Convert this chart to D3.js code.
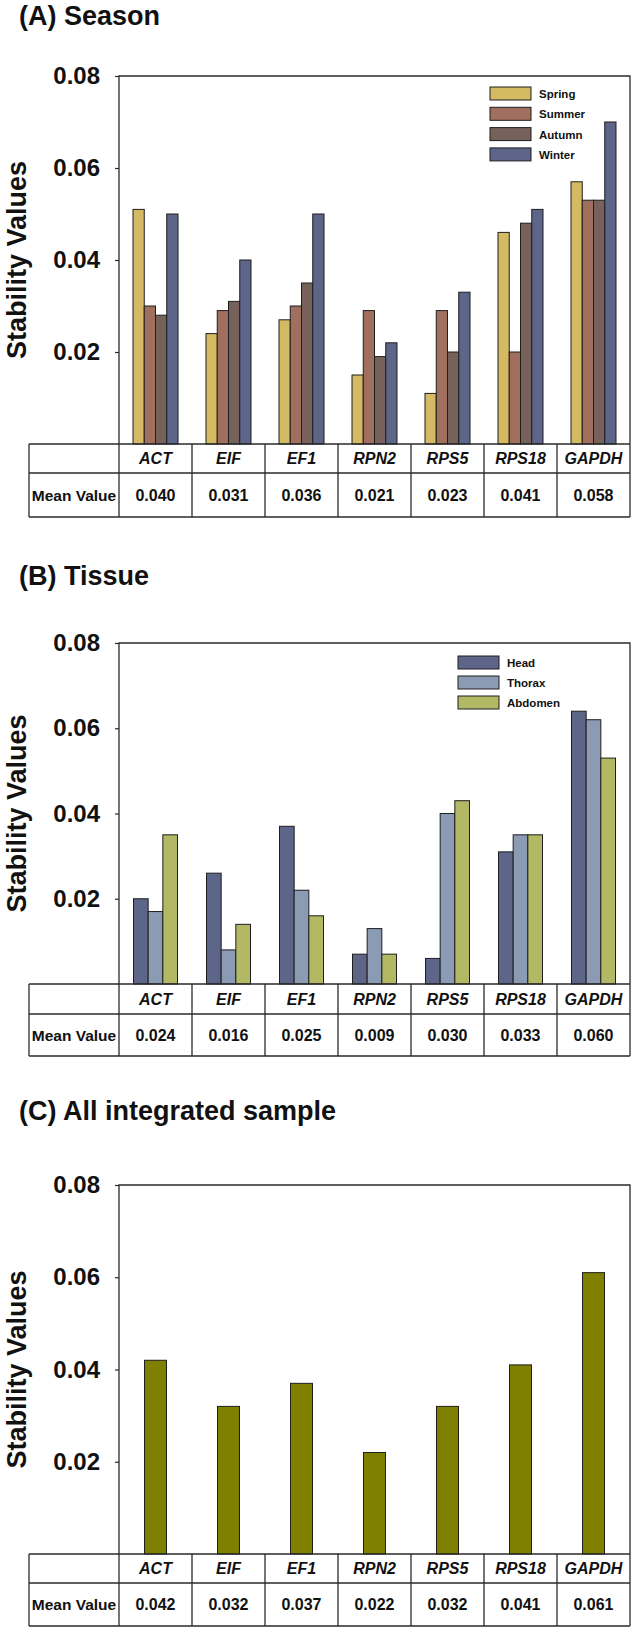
<!DOCTYPE html>
<html>
<head>
<meta charset="utf-8">
<script src="https://cdn.jsdelivr.net/npm/d3@7"></script>
<style>
  body { margin: 0; background: #fff; }
  svg text { font-family: "Liberation Sans", Arial, sans-serif; font-weight: bold; fill: #111; }
</style>
</head>
<body>
<div id="chart"></div>
<script>
// data
const genes = ['ACT', 'EIF', 'EF1', 'RPN2', 'RPS5', 'RPS18', 'GAPDH'];
const yTicks = [0.02, 0.04, 0.06, 0.08];

const seasons = ['Spring', 'Summer', 'Autumn', 'Winter'];
const springVals = [0.051, 0.024, 0.027, 0.015, 0.011, 0.046, 0.057];
const summerVals = [0.030, 0.029, 0.030, 0.029, 0.029, 0.020, 0.053];
const autumnVals = [0.028, 0.031, 0.035, 0.019, 0.020, 0.048, 0.053];
const winterVals = [0.050, 0.040, 0.050, 0.022, 0.033, 0.051, 0.070];
const seasonMeans = ['0.040', '0.031', '0.036', '0.021', '0.023', '0.041', '0.058'];

const tissues = ['Head', 'Thorax', 'Abdomen'];
const headVals = [0.020, 0.026, 0.037, 0.007, 0.006, 0.031, 0.064];
const thoraxVals = [0.017, 0.008, 0.022, 0.013, 0.040, 0.035, 0.062];
const abdomenVals = [0.035, 0.014, 0.016, 0.007, 0.043, 0.035, 0.053];
const tissueMeans = ['0.024', '0.016', '0.025', '0.009', '0.030', '0.033', '0.060'];

const allVals = [0.042, 0.032, 0.037, 0.022, 0.032, 0.041, 0.061];
const allMeans = ['0.042', '0.032', '0.037', '0.022', '0.032', '0.041', '0.061'];

// constants
const W = 637, H = 1632;
const plotLeft = 119, plotRight = 630, tableLeft = 29;
const lineColor = '#2a2a2a';

const svg = d3.select('#chart').append('svg')
    .attr('width', W)
    .attr('height', H);

const panels = [
    {title: '(A) Season', titleY: 25, top: 76, base: 444, mid: 473, bottom: 517,
     series: seasons, values: [springVals, summerVals, autumnVals, winterVals],
     colors: ['#d4ba62', '#a16f5d', '#76625a', '#5d6589'], groupW: 45,
     means: seasonMeans, legend: {x: 490, y: 87, step: 20.3}},
    {title: '(B) Tissue', titleY: 585, top: 643, base: 984, mid: 1014, bottom: 1056,
     series: tissues, values: [headVals, thoraxVals, abdomenVals],
     colors: ['#5d6589', '#8a9bb3', '#b3b865'], groupW: 44,
     means: tissueMeans, legend: {x: 458, y: 656, step: 20}},
    {title: '(C) All integrated sample', titleY: 1120, top: 1185, base: 1554, mid: 1583, bottom: 1626,
     series: ['All'], values: [allVals],
     colors: ['#808000'], groupW: 22,
     means: allMeans, legend: null}
];

panels.forEach(drawPanel);

function drawPanel(p) {
    const g = svg.append('g');

    g.append('text')
        .attr('x', 19)
        .attr('y', p.titleY)
        .style('font-size', '27px')
        .text(p.title);

    let x = d3.scaleBand()
        .domain(genes)
        .range([plotLeft, plotRight]);

    let xSub = d3.scaleBand()
        .domain(p.series)
        .range([(x.bandwidth() - p.groupW) / 2, (x.bandwidth() + p.groupW) / 2]);

    let y = d3.scaleLinear()
        .domain([0, 0.08])
        .range([p.base, p.top]);

    // y axis
    let yAxis = g.append('g')
        .attr('transform', `translate(${plotLeft},0)`)
        .call(d3.axisLeft(y).tickValues(yTicks).tickFormat(d3.format('.2f'))
            .tickSize(4).tickSizeOuter(0).tickPadding(15));
    yAxis.select('.domain').remove();
    yAxis.selectAll('line').attr('stroke', lineColor).attr('stroke-width', 1.2);
    yAxis.selectAll('text')
        .attr('fill', '#111')
        .style('font-size', '24px')
        .style('font-family', '"Liberation Sans", Arial, sans-serif')
        .style('font-weight', 'bold');

    g.append('text')
        .attr('transform', `translate(26,${(p.top + p.base) / 2}) rotate(-90)`)
        .attr('text-anchor', 'middle')
        .style('font-size', '27px')
        .text('Stability Values');

    // bars
    let rows = [];
    p.series.forEach((s, si) => {
        genes.forEach((gene, gi) => {
            rows.push({gene: gene, series: s, value: p.values[si][gi], color: p.colors[si]});
        });
    });

    g.selectAll('rect.bar')
        .data(rows)
        .enter()
        .append('rect')
        .attr('class', 'bar')
        .attr('x', d => x(d.gene) + xSub(d.series))
        .attr('y', d => y(d.value))
        .attr('width', xSub.bandwidth())
        .attr('height', d => y(0) - y(d.value))
        .attr('fill', d => d.color)
        .attr('stroke', '#1e1e1e')
        .attr('stroke-width', 1);

    // plot frame (left, top, right)
    g.append('path')
        .attr('d', `M${plotLeft},${p.base}V${p.top}H${plotRight}V${p.base}`)
        .attr('fill', 'none')
        .attr('stroke', lineColor)
        .attr('stroke-width', 1.3);

    // legend
    if (p.legend) {
        let leg = g.selectAll('g.leg')
            .data(p.series)
            .enter()
            .append('g')
            .attr('class', 'leg')
            .attr('transform', (d, i) => `translate(${p.legend.x},${p.legend.y + i * p.legend.step})`);
        leg.append('rect')
            .attr('width', 41)
            .attr('height', 13)
            .attr('fill', (d, i) => p.colors[i])
            .attr('stroke', '#1e1e1e')
            .attr('stroke-width', 1);
        leg.append('text')
            .attr('x', 49)
            .attr('y', 11)
            .style('font-size', '11.5px')
            .text(d => d);
    }

    // table under the chart
    let cols = [tableLeft].concat(genes.map(d => x(d))).concat([plotRight]);
    let tbl = g.append('g').attr('stroke', lineColor).attr('stroke-width', 1.3);
    [p.base, p.mid, p.bottom].forEach(yy => {
        tbl.append('line').attr('x1', tableLeft).attr('x2', plotRight).attr('y1', yy).attr('y2', yy);
    });
    cols.forEach(xx => {
        tbl.append('line').attr('x1', xx).attr('x2', xx).attr('y1', p.base).attr('y2', p.bottom);
    });

    let hY = (p.base + p.mid) / 2 + 5.6;
    let mY = (p.mid + p.bottom) / 2 + 5.6;

    g.selectAll('text.gene')
        .data(genes)
        .enter()
        .append('text')
        .attr('class', 'gene')
        .attr('x', d => x(d) + x.bandwidth() / 2)
        .attr('y', hY)
        .attr('text-anchor', 'middle')
        .style('font-size', '16px')
        .style('font-style', 'italic')
        .text(d => d);

    g.append('text')
        .attr('x', (tableLeft + plotLeft) / 2)
        .attr('y', mY)
        .attr('text-anchor', 'middle')
        .style('font-size', '15.5px')
        .text('Mean Value');

    g.selectAll('text.mean')
        .data(p.means)
        .enter()
        .append('text')
        .attr('class', 'mean')
        .attr('x', (d, i) => x(genes[i]) + x.bandwidth() / 2)
        .attr('y', mY)
        .attr('text-anchor', 'middle')
        .style('font-size', '16px')
        .text(d => d);
}
</script>
</body>
</html>
